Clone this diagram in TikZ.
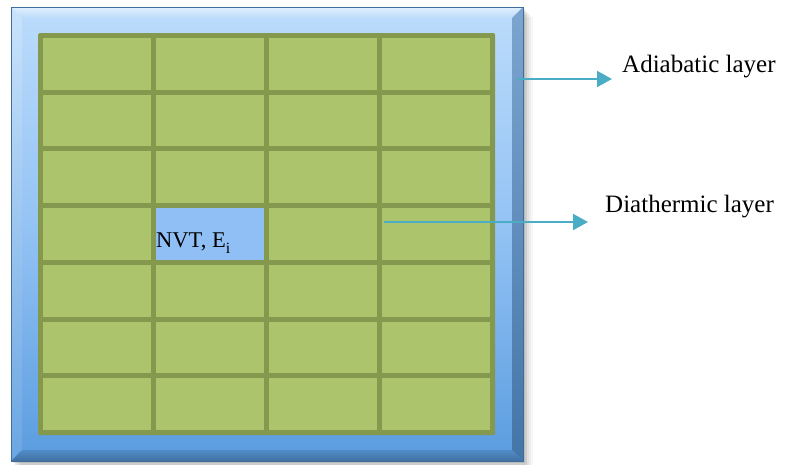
\documentclass[tikz,border=0pt]{standalone}
\usepackage{fontspec}
\setmainfont{Liberation Serif}
\usetikzlibrary{arrows.meta}
\definecolor{cellgreen}{HTML}{ACC46C}
\definecolor{linegreen}{HTML}{84984E}
\definecolor{hiblue}{HTML}{8FBFF5}
\definecolor{arrowteal}{HTML}{4BACC6}
\definecolor{facetop}{HTML}{BCDCFB}
\definecolor{facemid}{HTML}{92C2F4}
\definecolor{facebot}{HTML}{5A9CDF}
\tikzset{
  callout/.style={draw=arrowteal, line width=2pt, -{Triangle[length=15pt,width=16pt]}},
  labeltext/.style={anchor=base west, inner sep=0pt, font=\fontsize{25}{30}\selectfont},
  celltext/.style={anchor=base west, inner sep=0pt, font=\fontsize{22.5}{27}\selectfont},
}
\begin{document}
\begin{tikzpicture}[x=1pt,y=-1pt]
\useasboundingbox (0,0) rectangle (792,464);
% shadow
\foreach \o/\a in {2/0.10,4/0.08,6/0.06,8/0.04,10/0.03}{
  \fill[black,opacity=\a] (11+\o,7+\o) rectangle (523+\o,461+\o);
}
% frame face
\shade[top color=facetop, bottom color=facebot, middle color=facemid] (11,7) rectangle (523,461);
% bevels
\shade[top color=white!55!facetop, bottom color=facetop] (11,7) -- (523,7) -- (512,18) -- (22,18) -- cycle;
\shade[top color=white!20!facetop, bottom color=facebot!90!white] (11,7) -- (22,18) -- (22,450) -- (11,461) -- cycle;
\shade[top color=facemid!85!black, bottom color=facebot!75!black] (523,7) -- (523,461) -- (512,450) -- (512,18) -- cycle;
\shade[top color=facebot!90!black, bottom color=facebot!72!black] (11,461) -- (22,450) -- (512,450) -- (523,461) -- cycle;
\draw[facebot!70!black, line width=0.8pt] (11,7) rectangle (523,461);
% grid
\fill[linegreen, rounded corners=1.5pt] (38,33) rectangle (495,435);
\foreach \c in {0,...,3}{
  \foreach \r in {0,...,6}{
    \fill[cellgreen] ({40.5+113*\c+2.5},{35.5+56.714*\r+2.5}) rectangle ({40.5+113*(\c+1)-2.5},{35.5+56.714*(\r+1)-2.5});
  }
}
% highlighted cell
\node[fill=hiblue, inner sep=0pt, minimum width=108pt, minimum height=51.7pt, anchor=north west] (hicell) at (156,208.1) {};
\node[celltext] (nvt) at (156,247) {NVT, E\raisebox{-0.3ex}{\textsubscript{i}}};
% labels and arrows
\node[labeltext] (adia) at (622,72) {Adiabatic layer};
\node[labeltext] (diat) at (605,212) {Diathermic layer};
\coordinate (adS) at (517,79);
\coordinate (adE) at (612,79);
\coordinate (diS) at (384,222);
\coordinate (diE) at (588,222);
\draw[callout] (adS) -- (adE);
\draw[callout] (diS) -- (diE);
\end{tikzpicture}
\end{document}
